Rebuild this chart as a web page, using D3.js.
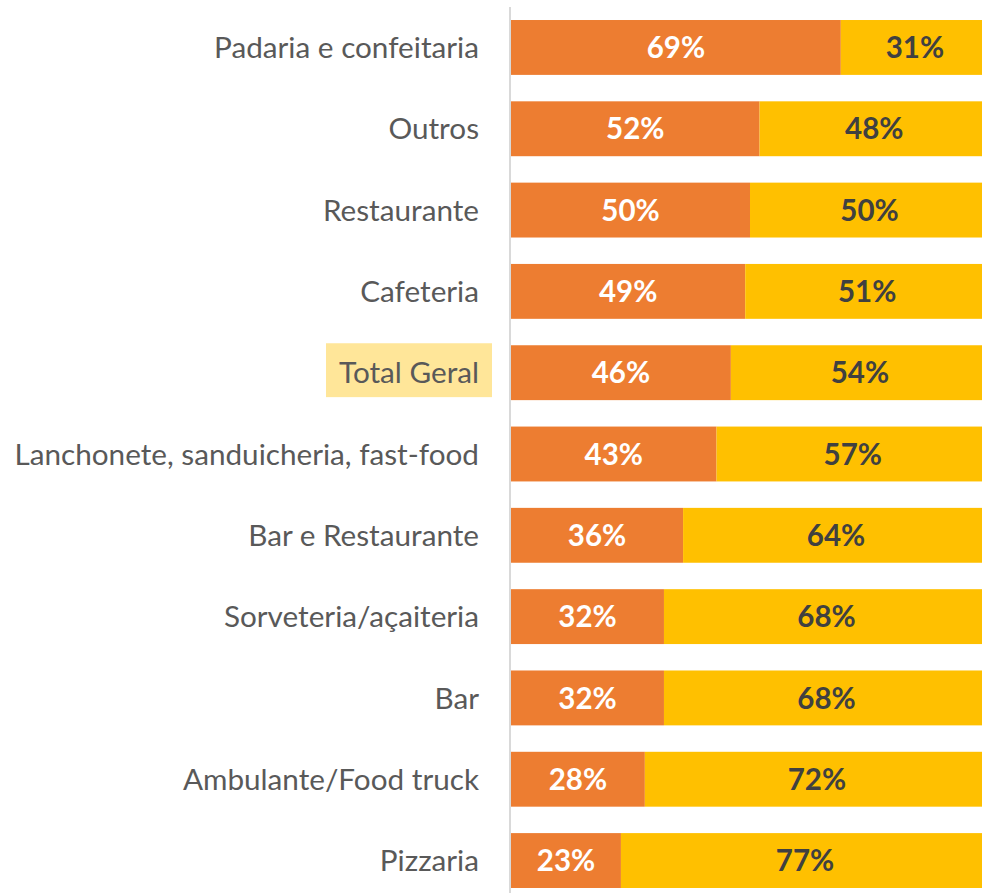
<!DOCTYPE html>
<html><head><meta charset="utf-8">
<script src="https://cdn.jsdelivr.net/npm/d3@7"></script>
<style>body{margin:0;background:#fff;} svg{display:block;}</style>
</head><body>
<svg id="chart" width="982" height="893"></svg>
<script>
const categories = ["Padaria e confeitaria","Outros","Restaurante","Cafeteria","Total Geral","Lanchonete, sanduicheria, fast-food","Bar e Restaurante","Sorveteria/açaiteria","Bar","Ambulante/Food truck","Pizzaria"];
const seriesA = [69,52,50,49,46,43,36,32,32,28,23];
const seriesB = [31,48,50,51,54,57,64,68,68,72,77];
const highlight = "Total Geral";

const svg = d3.select("#chart");
const x = d3.scaleLinear().domain([0,100]).range([511, 989]);
const y = d3.scaleBand().domain(categories).range([6.8, 901.2]).paddingInner(0.325).paddingOuter(0.1625);
const font = "Lato, 'Open Sans', sans-serif";

const hb = svg.append("rect").attr("fill","#FFE699");

const g = svg.append("g");
categories.forEach((c,i)=>{
  const a = seriesA[i], b = seriesB[i];
  g.append("rect").attr("x",x(0)).attr("y",y(c)).attr("width",x(a)-x(0)).attr("height",y.bandwidth()).attr("fill","#ED7D31");
  g.append("rect").attr("x",x(a)).attr("y",y(c)).attr("width",x(a+b)-x(a)).attr("height",y.bandwidth()).attr("fill","#FFC000");
  const cy = y(c)+y.bandwidth()/2;
  g.append("text").attr("x",(x(0)+x(a))/2).attr("y",cy).attr("dy","0.36em").attr("text-anchor","middle")
    .attr("font-family",font).attr("font-weight","bold").attr("font-size",29.5).attr("fill","#fff").text(a+"%");
  g.append("text").attr("x",(x(a)+x(a+b))/2).attr("y",cy).attr("dy","0.36em").attr("text-anchor","middle")
    .attr("font-family",font).attr("font-weight","bold").attr("font-size",29.5).attr("fill","#404040").text(b+"%");
  const t = g.append("text").attr("x",479).attr("y",cy).attr("dy","0.36em").attr("text-anchor","end")
    .attr("font-family",font).attr("font-size",29.7).attr("fill","#595959").text(c);
  if (c === highlight) {
    const bb = t.node().getBBox();
    hb.attr("x",bb.x-13).attr("y",y(c)-2).attr("width",492-(bb.x-13)).attr("height",y.bandwidth()-1);
  }
});

svg.append("line").attr("x1",510).attr("x2",510).attr("y1",7).attr("y2",893).attr("stroke","#D9D9D9").attr("stroke-width",2);
</script>
</body></html>
